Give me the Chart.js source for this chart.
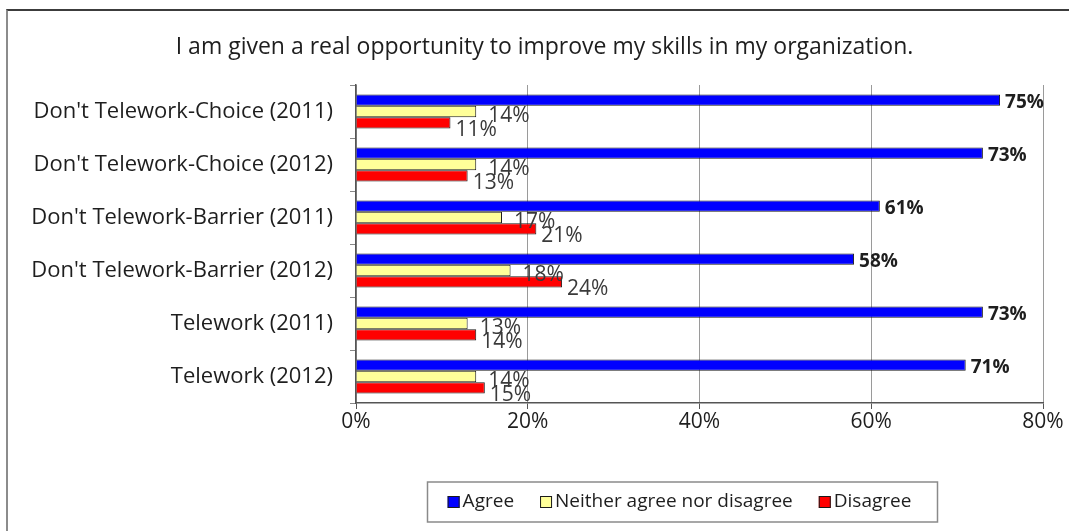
<!DOCTYPE html>
<html>
<head>
<meta charset="utf-8">
<script src="https://cdn.jsdelivr.net/npm/chart.js@4/dist/chart.umd.min.js"></script>
<style>
  html, body { margin: 0; padding: 0; background: #fff; overflow: hidden; }
  #wrap { position: relative; width: 1069px; height: 531px; }
  #frame {
    position: absolute; left: 6px; top: 9px; width: 1200px; height: 600px;
    border-top: 2px solid #3c3c3c; border-left: 2px solid #8c8c8c;
  }
  canvas { position: absolute; left: 0; top: 0; }
</style>
</head>
<body>
<div id="wrap">
  <div id="frame"></div>
  <canvas id="chart" width="1069" height="531"></canvas>
</div>
<script>
const categories = [
  "Don't Telework-Choice (2011)",
  "Don't Telework-Choice (2012)",
  "Don't Telework-Barrier (2011)",
  "Don't Telework-Barrier (2012)",
  'Telework (2011)',
  'Telework (2012)'
];
const agree = [75, 73, 61, 58, 73, 71];
const neither = [14, 14, 17, 18, 13, 14];
const disagree = [11, 13, 21, 24, 14, 15];
const xTicks = [0, 20, 40, 60, 80];

const chartTitle = 'I am given a real opportunity to improve my skills in my organization.';
const FONT = '"Open Sans", sans-serif';

// title sits over the whole frame, not just the plot
const frameTitle = {
  id: 'frameTitle',
  afterDraw(chart, args, opts) {
    const ctx = chart.ctx;
    ctx.save();
    ctx.font = '23px ' + FONT;
    ctx.fillStyle = '#1e1e1e';
    ctx.textAlign = 'center';
    ctx.textBaseline = 'middle';
    ctx.fillText(opts.text, opts.x, opts.y);
    ctx.restore();
  }
};

// value labels at the end of each bar
const barLabels = {
  id: 'barLabels',
  afterDatasetsDraw(chart) {
    const ctx = chart.ctx;
    const styles = [
      { dx: 5, dy: 2, font: 'bold 19px ' + FONT, color: '#1e1e1e' },
      { dx: 12, dy: 5, font: '21px ' + FONT, color: '#3a3a3a' },
      { dx: 5, dy: 7, font: '21px ' + FONT, color: '#3a3a3a' }
    ];
    ctx.save();
    ctx.textBaseline = 'middle';
    ctx.textAlign = 'left';
    chart.data.datasets.forEach((ds, i) => {
      const s = styles[i];
      ctx.font = s.font;
      ctx.fillStyle = s.color;
      chart.getDatasetMeta(i).data.forEach((bar, j) => {
        ctx.fillText(ds.data[j] + '%', bar.x + s.dx, bar.y + s.dy);
      });
    });
    ctx.restore();
  }
};

// boxed legend under the axis
const boxLegend = {
  id: 'boxLegend',
  afterDraw(chart, args, opts) {
    const ctx = chart.ctx;
    ctx.save();
    ctx.font = '19px ' + FONT;
    ctx.textBaseline = 'middle';
    const box = 12, textGap = 3, itemGap = 26;
    const items = chart.data.datasets.map(ds => ({
      ds, w: box + textGap + ctx.measureText(ds.label).width
    }));
    const total = items.reduce((a, it) => a + it.w, 0) + itemGap * (items.length - 1);
    let x = opts.centerX - total / 2;
    const y = opts.centerY;
    ctx.strokeStyle = '#8a8a8a';
    ctx.lineWidth = 1.5;
    ctx.strokeRect(Math.round(x - 21) + 0.5, y - 20, Math.round(total + 46), 40);
    items.forEach(it => {
      ctx.fillStyle = it.ds.backgroundColor;
      ctx.fillRect(x, y - 6, box, box);
      ctx.strokeStyle = '#1a1a1a';
      ctx.lineWidth = 1;
      ctx.strokeRect(x + 0.5, y - 5.5, box - 1, box - 1);
      ctx.fillStyle = '#1e1e1e';
      ctx.fillText(it.ds.label, x + box + textGap, y);
      x += it.w + itemGap;
    });
    ctx.restore();
  }
};

new Chart(document.getElementById('chart'), {
  type: 'bar',
  data: {
    labels: categories,
    datasets: [
      { label: 'Agree', data: agree, backgroundColor: '#0000ff' },
      { label: 'Neither agree nor disagree', data: neither, backgroundColor: '#ffff99' },
      { label: 'Disagree', data: disagree, backgroundColor: '#ff0000' }
    ]
  },
  options: {
    indexAxis: 'y',
    responsive: false,
    animation: false,
    layout: { padding: { left: 0, right: 26, top: 85, bottom: 0 } },
    datasets: {
      bar: {
        categoryPercentage: 0.64,
        barPercentage: 1,
        borderColor: '#1a1a1a',
        borderWidth: 1
      }
    },
    scales: {
      x: {
        min: 0,
        max: 80,
        afterBuildTicks(scale) { scale.ticks = xTicks.map(v => ({ value: v })); },
        afterFit(scale) { scale.height = 128; },
        grid: { color: '#9a9a9a', tickColor: '#555', tickLength: 6, lineWidth: 1 },
        border: { color: '#555', width: 1.5 },
        ticks: {
          padding: 0,
          color: '#1e1e1e',
          font: { family: FONT, size: 21 },
          callback: v => v + '%'
        }
      },
      y: {
        afterFit(scale) { scale.width = 356; },
        grid: { drawOnChartArea: false, tickColor: '#888', tickLength: 6 },
        border: { color: '#555', width: 1.5 },
        ticks: {
          padding: 17,
          color: '#1e1e1e',
          font: { family: FONT, size: 22 }
        }
      }
    },
    plugins: {
      legend: { display: false },
      tooltip: { enabled: false },
      title: { display: false },
      frameTitle: { text: chartTitle, x: 544.5, y: 47 },
      boxLegend: { centerX: 679.5, centerY: 502 }
    }
  },
  plugins: [frameTitle, barLabels, boxLegend]
});
</script>
</body>
</html>
